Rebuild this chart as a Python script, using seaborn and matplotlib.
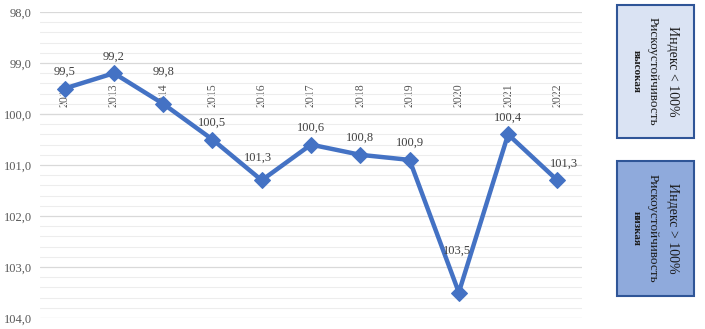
import numpy as np
import pandas as pd
import matplotlib.pyplot as plt
import seaborn as sns
from matplotlib.patches import Rectangle
from matplotlib.ticker import MultipleLocator, FuncFormatter

# ——— Data ———
years  = [2012, 2013, 2014, 2015, 2016, 2017, 2018, 2019, 2020, 2021, 2022]
values = [99.5, 99.2, 99.8, 100.5, 101.3, 100.6, 100.8, 100.9, 103.5, 100.4, 101.3]
value_labels = ["99,5", "99,2", "99,8", "100,5", "101,3", "100,6",
                "100,8", "100,9", "103,5", "100,4", "101,3"]
box_top_lines    = ["Индекс < 100%", "Рискоустойчивость", "высокая"]
box_bottom_lines = ["Индекс > 100%", "Рискоустойчивость", "низкая"]

# ——— Style ———
line_color = "#4472C4"
serif      = "Liberation Serif"
label_offsets = [(0, 12), (0, 12), (0, 23), (0, 12), (-3, 16), (0, 12),
                 (0, 12), (0, 12), (-1, 30), (0, 12), (5, 12)]

sns.set_style("white")
plt.rcParams['font.family'] = [serif, 'DejaVu Serif']

df = pd.DataFrame({"year": years, "value": values})

fig = plt.figure(figsize=(7.05, 3.29), dpi=100)
ax = fig.add_axes([40 / 705, 1 - 318 / 329, (582 - 40) / 705, (318 - 12) / 329])

sns.lineplot(data=df, x="year", y="value", ax=ax, color=line_color,
             linewidth=3.2, marker="D", markersize=8.5,
             markeredgecolor=line_color, zorder=3)

ax.set_xlim(2011.5, 2022.5)
ax.set_ylim(104, 98)
ax.yaxis.set_major_locator(MultipleLocator(1))
ax.yaxis.set_minor_locator(MultipleLocator(0.2))
ax.yaxis.set_major_formatter(FuncFormatter(lambda v, p: f"{v:.1f}".replace(".", ",")))
ax.grid(which="major", axis="y", color="#D9D9D9", linewidth=0.9)
ax.grid(which="minor", axis="y", color="#EDEDED", linewidth=0.8)
ax.set_axisbelow(True)

# category axis crosses at 100, labels above it
ax.set_xticks(years)
ax.set_xticklabels([str(y) for y in years])
ax.xaxis.set_ticks_position("top")
ax.spines["top"].set_position(("data", 100))
ax.spines["top"].set_color("#D9D9D9")
for s in ["left", "right", "bottom"]:
    ax.spines[s].set_visible(False)
ax.tick_params(axis="x", which="both", length=0, pad=5, labelrotation=90,
               labelsize=8.5, labelcolor="#595959")
ax.tick_params(axis="y", which="both", length=0, labelsize=9,
               labelcolor="#595959", pad=6)
ax.set_xlabel("")
ax.set_ylabel("")

for x, v, lab, off in zip(years, values, value_labels, label_offsets):
    ax.annotate(lab, (x, v), xytext=off, textcoords="offset points",
                ha="center", va="center", fontsize=9, color="#404040")

# ——— Side boxes ———
def add_box(y0_px, y1_px, face, lines):
    x0, x1 = 617, 694
    fig.add_artist(Rectangle((x0 / 705, 1 - y1_px / 329),
                             (x1 - x0) / 705, (y1_px - y0_px) / 329,
                             transform=fig.transFigure, facecolor=face,
                             edgecolor="#2F5597", linewidth=1.5))
    yc = 1 - (y0_px + y1_px) / 2 / 329
    sizes = [10, 9.5, 8]
    xs = [672, 653, 636]
    for txt, fs, xp in zip(lines, sizes, xs):
        fig.text(xp / 705, yc, txt, rotation=-90, ha="center", va="center",
                 fontsize=fs, color="#1a1a1a",
                 fontweight="bold" if fs < 9 else "normal")

add_box(5, 138, "#DAE3F3", box_top_lines)
add_box(161, 296, "#8FAADC", box_bottom_lines)

fig.savefig("out.png", dpi=100)
